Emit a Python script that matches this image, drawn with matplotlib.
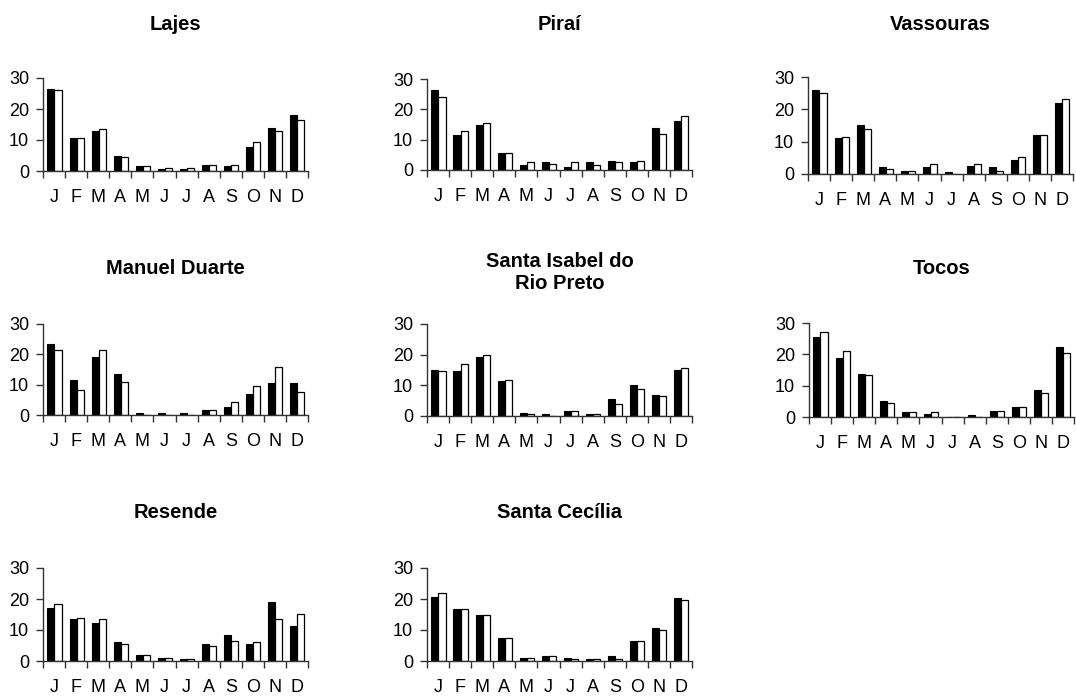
import matplotlib
matplotlib.use("Agg")
from matplotlib import pyplot as plt
import numpy as np

plt.rcParams['font.family'] = ['Liberation Sans', 'DejaVu Sans']

meses = ['J', 'F', 'M', 'A', 'M', 'J', 'J', 'A', 'S', 'O', 'N', 'D']

estacoes = ['Lajes', 'Piraí', 'Vassouras',
            'Manuel Duarte', 'Santa Isabel do\nRio Preto', 'Tocos',
            'Resende', 'Santa Cecília']

# serie preta / serie branca por estacao
lajes_a = [26.5, 10.8, 13.0, 5.0, 1.5, 0.5, 0.5, 2.0, 1.5, 7.8, 14.0, 18.0]
lajes_b = [26.0, 10.8, 13.5, 4.5, 1.5, 1.0, 1.0, 2.0, 2.0, 9.5, 13.0, 16.3]
pirai_a = [26.5, 11.5, 14.7, 5.5, 1.5, 2.5, 1.0, 2.5, 3.0, 2.5, 13.8, 16.0]
pirai_b = [24.2, 12.8, 15.5, 5.5, 2.5, 2.0, 2.5, 1.5, 2.5, 3.0, 12.0, 17.8]
vassouras_a = [26.0, 11.0, 15.3, 2.2, 1.0, 2.2, 0.5, 2.6, 2.2, 4.3, 12.0, 22.0]
vassouras_b = [25.0, 11.3, 14.0, 1.6, 1.0, 3.0, 0.0, 3.0, 1.0, 5.2, 12.2, 23.3]
duarte_a = [23.3, 11.7, 19.2, 13.5, 0.5, 0.5, 0.5, 1.5, 2.8, 7.0, 10.7, 10.7]
duarte_b = [21.5, 8.3, 21.3, 11.0, 0.0, 0.0, 0.0, 1.5, 4.2, 9.7, 15.8, 7.5]
isabel_a = [15.0, 14.7, 19.3, 11.5, 1.0, 0.5, 1.5, 0.5, 5.5, 10.2, 7.0, 15.0]
isabel_b = [14.7, 17.0, 20.0, 11.8, 0.5, 0.0, 1.5, 0.5, 4.0, 8.7, 6.5, 15.5]
tocos_a = [25.5, 18.7, 13.8, 5.0, 1.5, 1.0, 0.0, 0.5, 2.0, 3.2, 8.5, 22.3]
tocos_b = [27.0, 21.0, 13.3, 4.5, 1.5, 1.5, 0.0, 0.0, 2.0, 3.2, 7.6, 20.5]
resende_a = [17.2, 13.7, 12.3, 6.0, 2.0, 1.0, 0.5, 5.5, 8.3, 5.5, 19.0, 11.3]
resende_b = [18.5, 14.0, 13.6, 5.5, 2.0, 1.0, 0.5, 5.0, 6.5, 6.0, 13.6, 15.3]
cecilia_a = [20.7, 16.7, 15.0, 7.3, 1.0, 1.5, 1.0, 0.5, 1.5, 6.5, 10.5, 20.2]
cecilia_b = [22.0, 16.7, 15.0, 7.3, 1.0, 1.5, 0.5, 0.5, 0.5, 6.5, 10.0, 19.7]

series_a = [lajes_a, pirai_a, vassouras_a, duarte_a, isabel_a, tocos_a, resende_a, cecilia_a]
series_b = [lajes_b, pirai_b, vassouras_b, duarte_b, isabel_b, tocos_b, resende_b, cecilia_b]

W, H = 1076, 697
# posicao dos eixos em pixels: esquerda, topo, base
caixas = [(43, 78, 171), (427, 79, 170), (808, 77, 174),
          (43, 324, 415), (427, 324, 416), (809, 323, 417),
          (43, 568, 661), (427, 568, 661)]
titulo_y = [25, 25, 25, 268, 273, 268, 513, 513]
largura = 265

fig = plt.figure(figsize=(W / 100, H / 100), dpi=100)
x = np.arange(12)
for i in range(len(estacoes)):
    esq, topo, base = caixas[i]
    ax = fig.add_axes([esq / W, 1 - base / H, largura / W, (base - topo) / H])
    ax.bar(x - 0.14, series_a[i], width=0.32, color='black', edgecolor='black', linewidth=0.8)
    ax.bar(x + 0.18, series_b[i], width=0.32, color='white', edgecolor='black', linewidth=0.9)
    ax.set_xlim(-0.5, 11.5)
    ax.set_ylim(0, 30)
    ax.set_yticks([0, 10, 20, 30])
    ax.set_xticks(np.arange(-0.5, 12, 1))
    ax.set_xticklabels([])
    ax.set_xticks(x, minor=True)
    ax.set_xticklabels(meses, minor=True)
    ax.tick_params(axis='x', which='major', direction='out', length=5, width=1, color='#333333')
    ax.tick_params(axis='x', which='minor', length=0, pad=13, labelsize=13)
    ax.tick_params(axis='y', direction='out', length=5, width=1, color='#333333', pad=5, labelsize=13)
    for lado in ['top', 'right']:
        ax.spines[lado].set_visible(False)
    for lado in ['left', 'bottom']:
        ax.spines[lado].set_color('#333333')
        ax.spines[lado].set_linewidth(1)
    fig.text((esq + largura / 2) / W, 1 - titulo_y[i] / H, estacoes[i],
             ha='center', va='center', fontsize=14.5, fontweight='bold', linespacing=1.2)

fig.savefig('out.png', dpi=100)
